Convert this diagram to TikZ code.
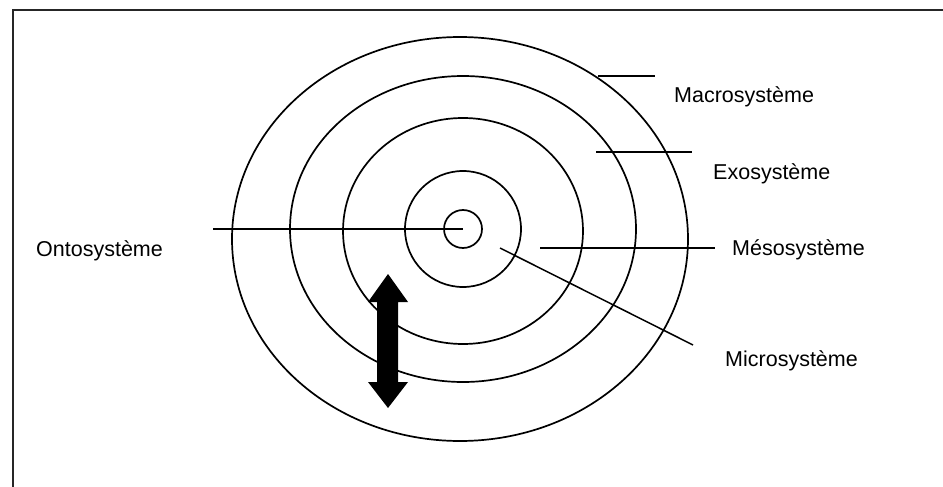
\documentclass[tikz,border=0pt]{standalone}
\usepackage{fontspec}
\setmainfont{Liberation Sans}
\begin{document}
\begin{tikzpicture}[x=1pt,y=-1pt,
  ring/.style={draw=black,line width=1.7pt},
  leader/.style={draw=black,line width=1.5pt},
  lbl/.style={anchor=west,inner sep=0pt,font=\fontsize{21.5}{24}\selectfont}]
\useasboundingbox (0,0) rectangle (943,487);
% frame (only top and left visible)
\draw[line width=1.7pt,draw=black!85] (13,490) -- (13,10) -- (946,10);
% rings
\draw[ring] (460,239) ellipse [x radius=228,y radius=202];
\draw[ring] (463,229) ellipse [x radius=173,y radius=153];
\draw[ring] (463,231) ellipse [x radius=120,y radius=113];
\draw[ring] (463,229) circle [radius=58];
\draw[ring] (463,229) circle [radius=19];
% labels
\node[lbl] (macro) at (674,97) {Macrosystème};
\node[lbl] (exo) at (713,174) {Exosystème};
\node[lbl] (meso) at (732,250) {Mésosystème};
\node[lbl] (micro) at (725,361) {Microsystème};
\node[lbl] (onto) at (36,251) {Ontosystème};
% leaders
\coordinate (m1) at (598,76);  \coordinate (m2) at (655,76);
\coordinate (e1) at (596,152); \coordinate (e2) at (692,152);
\coordinate (s1) at (540,248); \coordinate (s2) at (715,248);
\coordinate (c1) at (500,248); \coordinate (c2) at (693,345);
\coordinate (o1) at (213,229); \coordinate (o2) at (463,229);
\draw[leader] (m1) -- (m2);
\draw[leader] (e1) -- (e2);
\draw[leader] (s1) -- (s2);
\draw[leader] (c1) -- (c2);
\draw[leader] (o1) -- (o2);
% double arrow
\fill[black] (388,274) -- (408,302) -- (398,302) -- (398,382) -- (408,382)
  -- (388,408) -- (368,382) -- (377,382) -- (377,302) -- (368,302) -- cycle;
\end{tikzpicture}
\end{document}
